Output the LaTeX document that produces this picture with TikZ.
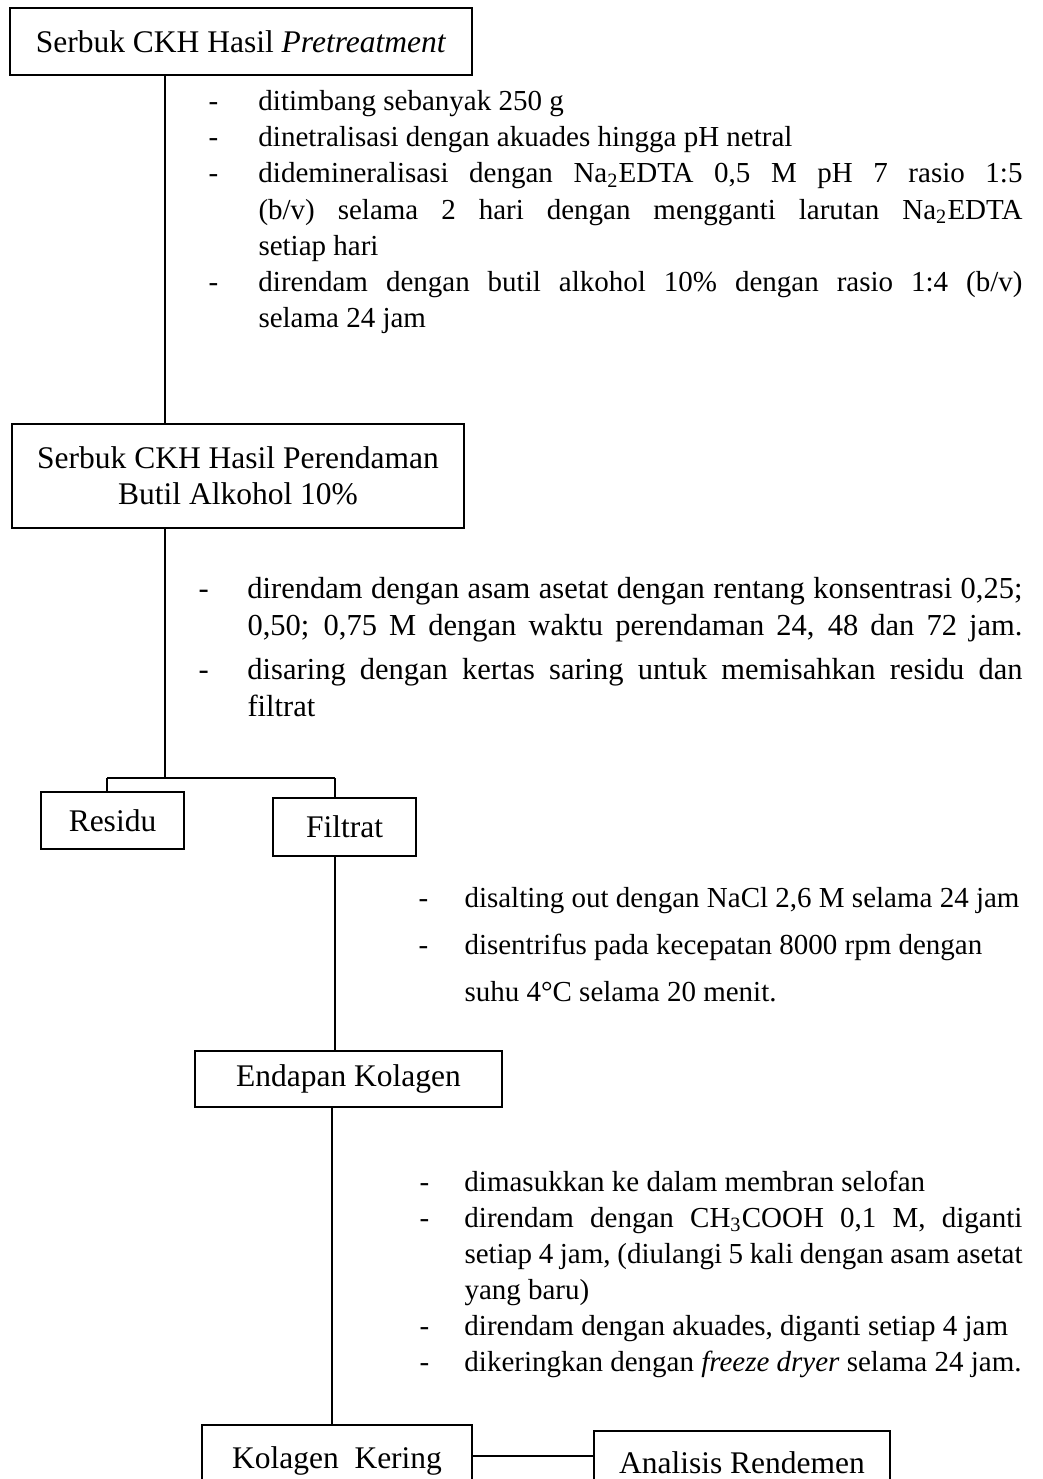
\documentclass[tikz,border=0pt]{standalone}
\usepackage{fontspec}
\setmainfont{Liberation Serif}

% list text: size, spacing, no hyphens
\newcommand{\listsize}[3]{\fontsize{#1}{#2}\selectfont\parskip=#3\spaceskip=.25em plus .8em minus .12em\hyphenpenalty=10000\tolerance=9999}
\newcommand{\dashitem}[2]{\parfillskip=0pt plus 1fil\noindent\hangindent=#1\hangafter=1\makebox[#1][l]{-}#2\par}

\begin{document}
\begin{tikzpicture}[x=0.4pt, y=-0.4pt,
  box/.style={draw, line width=1pt, inner sep=0pt, align=center, font=\fontsize{12.6pt}{14.4pt}\selectfont},
  link/.style={line width=0.5pt},
  steps/.style={anchor=base west, inner sep=0pt, text width=#1}]
  \useasboundingbox (0,0) rectangle (1042,1479);
  \clip (0,0) rectangle (1042,1479);

  % Boxes
  \node[box, minimum width=184.8pt, minimum height=26.8pt] (pretreat) at (241,41.5) {Serbuk CKH Hasil \emph{Pretreatment}};
  \node[box, minimum width=180.8pt, minimum height=41.6pt] (rendam) at (238,476) {Serbuk CKH Hasil Perendaman\\Butil Alkohol 10\%};
  \node[box, minimum width=57.2pt, minimum height=22.8pt] (residu) at (112.5,820.5) {Residu};
  \node[box, minimum width=57.2pt, minimum height=23.2pt] (filtrat) at (344.5,827) {Filtrat};
  \node[box, minimum width=122.8pt, minimum height=22.4pt] (endapan) at (348.5,1079) {Endapan Kolagen};
  \node[box, minimum width=108pt, minimum height=28.8pt] (kering) at (337,1461) {Kolagen\ \ Kering};
  \node[box, minimum width=118.4pt, minimum height=25.6pt] (rendemen) at (742,1463) {Analisis Rendemen};

  % Branch points
  \coordinate (split) at (165,778);
  \coordinate (toresidu) at (107,778);
  \coordinate (tofiltrat) at (335,778);
  \coordinate (col) at (332,1107);

  % Connectors
  \draw[link] (pretreat.south -| split) -- (rendam.north -| split);
  \draw[link] (rendam.south -| split) -- (split);
  \draw[link] (toresidu) -- (tofiltrat);
  \draw[link] (toresidu) -- (residu.north -| toresidu);
  \draw[link] (tofiltrat) -- (filtrat.north -| tofiltrat);
  \draw[link] (filtrat.south -| tofiltrat) -- (endapan.north -| tofiltrat);
  \draw[link] (endapan.south -| col) -- (kering.north -| col);
  \draw[link] (kering.east |- 0,1456) -- (rendemen.west |- 0,1456);

  % Steps
  \node[steps=325.6pt, align=justify, font={\listsize{11.6pt}{14.4pt}{0pt}}] (langkah1) at (208,111) {%
    \dashitem{20pt}{ditimbang sebanyak 250 g}
    \dashitem{20pt}{dinetralisasi dengan akuades hingga pH netral}
    \dashitem{20pt}{didemineralisasi dengan Na\textsubscript{2}EDTA 0,5 M pH 7 rasio 1:5 \linebreak (b/v) selama 2 hari dengan mengganti larutan Na\textsubscript{2}EDTA \linebreak setiap hari}
    \dashitem{20pt}{direndam dengan butil alkohol 10\% dengan rasio 1:4 (b/v) \linebreak selama 24 jam}};
  \node[steps=329.6pt, align=justify, font={\listsize{12.2pt}{14.8pt}{3pt}}] (langkah2) at (198,598) {%
    \dashitem{19.6pt}{direndam dengan asam asetat dengan rentang konsentrasi 0,25; \linebreak 0,50; 0,75 M dengan waktu perendaman 24, 48 dan 72 jam.\parfillskip=0pt}
    \dashitem{19.6pt}{disaring dengan kertas saring untuk memisahkan residu dan \linebreak filtrat}};
  \node[steps=249.6pt, align=left, font={\listsize{11.6pt}{18.8pt}{0pt}}] (langkah3) at (418,907) {%
    \spaceskip=.25em\xspaceskip=.25em
    \dashitem{18.4pt}{disalting out dengan NaCl 2,6 M selama 24 jam}
    \dashitem{18.4pt}{disentrifus pada kecepatan 8000 rpm dengan\newline suhu 4°C selama 20 menit.}};
  \node[steps=241.2pt, align=justify, font={\listsize{11.6pt}{14.4pt}{0pt}}] (langkah4) at (419,1191) {%
    \dashitem{18pt}{dimasukkan ke dalam membran selofan}
    \dashitem{18pt}{direndam dengan CH\textsubscript{3}COOH 0,1 M, diganti \linebreak setiap 4 jam, (diulangi 5 kali dengan asam asetat \linebreak yang baru)}
    \dashitem{18pt}{direndam dengan akuades, diganti setiap 4 jam}
    \dashitem{18pt}{dikeringkan dengan \emph{freeze dryer} selama 24 jam.}};
\end{tikzpicture}
\end{document}
